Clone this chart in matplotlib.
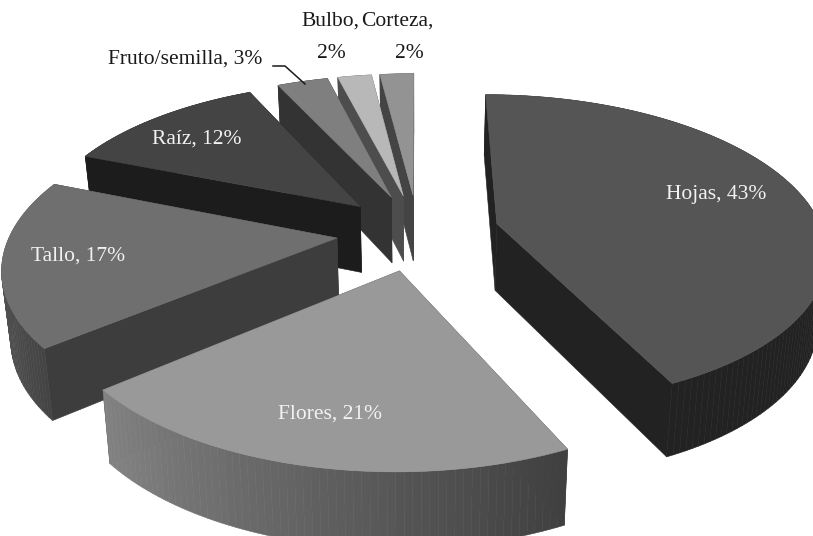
import numpy as np
from matplotlib import pyplot as plt
from matplotlib.patches import Polygon

# partes de la planta, en porcentaje
partes = ["Hojas", "Flores", "Tallo", "Raíz", "Fruto/semilla", "Bulbo", "Corteza"]
valores = [43, 21, 17, 12, 3, 2, 2]

color_tapa = ["#555555", "#999999", "#6f6f6f", "#444444", "#7f7f7f", "#b8b8b8", "#939393"]
color_lado = ["#222222", "#404040", "#3d3d3d", "#1c1c1c", "#333333", "#4d4d4d", "#444444"]
# tono del borde curvo al inicio y al final de cada sector
borde_ini = ["#222222", "#3f3f3f", "#444444", "#1c1c1c", "#333333", "#4d4d4d", "#444444"]
borde_fin = ["#222222", "#848484", "#6a6a6a", "#1c1c1c", "#333333", "#4d4d4d", "#444444"]

# proyección del disco
cx, cy = 418, 232
A, B = 326, 153
K = 0.166
explosion = 0.25
alto = 67
reduce_x = 0.978


def proy(X, Y):
    p = 1 / (1 - K * Y)
    return cx + A * X * p, cy + B * Y * p


def abajo(X, Y):
    sx, sy = proy(X, Y)
    p = 1 / (1 - K * Y)
    return cx + (sx - cx) * reduce_x, sy + alto * p ** 0.6


def hex_rgb(c):
    return np.array([int(c[i:i + 2], 16) / 255 for i in (1, 3, 5)])


fig = plt.figure(figsize=(8.13, 5.36), dpi=100)
ax = fig.add_axes([0, 0, 1, 1])
ax.set_xlim(0, 813)
ax.set_ylim(536, 0)
ax.axis("off")

# ángulos medidos desde el norte, en sentido horario
fin = np.cumsum(valores) / sum(valores) * 2 * np.pi
ini = np.concatenate([[0], fin[:-1]])

orden = [6, 5, 4, 3, 0, 2, 1]  # de atrás hacia adelante
for i in orden:
    medio = (ini[i] + fin[i]) / 2
    x0 = explosion * np.sin(medio)
    y0 = -explosion * np.cos(medio)
    t = np.linspace(ini[i], fin[i], max(int(valores[i] * 3), 6) + 1)
    X = x0 + np.sin(t)
    Y = y0 - np.cos(t)

    caras = []
    # caras rectas
    for xr, yr in [(X[0], Y[0]), (X[-1], Y[-1])]:
        q = [proy(x0, y0), proy(xr, yr), abajo(xr, yr), abajo(x0, y0)]
        caras.append(((y0 + yr) / 2, q, color_lado[i]))
    # borde curvo, por tramos para el degradado
    c1, c2 = hex_rgb(borde_ini[i]), hex_rgb(borde_fin[i])
    for j in range(len(t) - 1):
        q = [proy(X[j], Y[j]), proy(X[j + 1], Y[j + 1]), abajo(X[j + 1], Y[j + 1]), abajo(X[j], Y[j])]
        f = (j + 0.5) / (len(t) - 1)
        caras.append(((Y[j] + Y[j + 1]) / 2, q, c1 + (c2 - c1) * f))
    caras.sort(key=lambda c: c[0])
    for _, q, col in caras:
        ax.add_patch(Polygon(q, closed=True, fc=col, ec=col, lw=0.4))

    tapa = [proy(x0, y0)] + [proy(a, b) for a, b in zip(X, Y)]
    ax.add_patch(Polygon(tapa, closed=True, fc=color_tapa[i], ec=color_tapa[i], lw=0.4))

fuente = ["Liberation Serif", "DejaVu Serif"]
tam = 15.5
ax.text(716, 194, "%s, %d%%" % (partes[0], valores[0]), color="#f2f2f2", fontsize=tam, family=fuente, ha="center", va="center")
ax.text(330, 414, "%s, %d%%" % (partes[1], valores[1]), color="#f2f2f2", fontsize=tam, family=fuente, ha="center", va="center")
ax.text(78, 256, "%s, %d%%" % (partes[2], valores[2]), color="#f2f2f2", fontsize=tam, family=fuente, ha="center", va="center")
ax.text(197, 139, "%s, %d%%" % (partes[3], valores[3]), color="#f2f2f2", fontsize=tam, family=fuente, ha="center", va="center")
ax.text(185, 59, "%s, %d%%" % (partes[4], valores[4]), color="#1a1a1a", fontsize=tam, family=fuente, ha="center", va="center")
ax.text(330, 21, partes[5] + ",", color="#1a1a1a", fontsize=tam, family=fuente, ha="center", va="center")
ax.text(331, 53, "%d%%" % valores[5], color="#1a1a1a", fontsize=tam, family=fuente, ha="center", va="center")
ax.text(397, 21, partes[6] + ",", color="#1a1a1a", fontsize=tam, family=fuente, ha="center", va="center")
ax.text(409, 53, "%d%%" % valores[6], color="#1a1a1a", fontsize=tam, family=fuente, ha="center", va="center")

# línea guía de Fruto/semilla
ax.plot([273, 285, 305], [66, 66, 84], color="#1a1a1a", lw=1.1)

fig.savefig("out.png", dpi=100)
